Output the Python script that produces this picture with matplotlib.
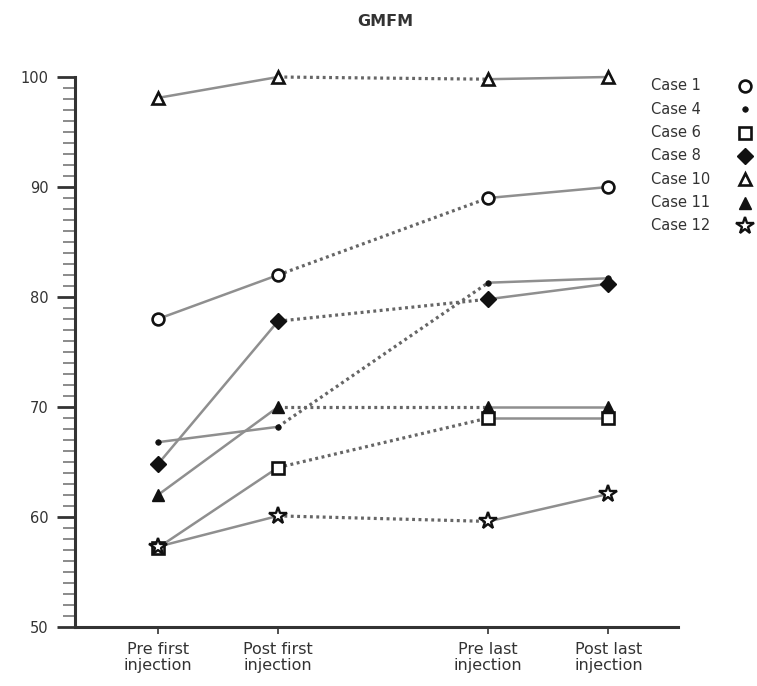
import matplotlib
matplotlib.use("Agg")
import matplotlib.pyplot as plt
from matplotlib.lines import Line2D
from matplotlib.ticker import MultipleLocator

timepoints = ["Pre first\ninjection", "Post first\ninjection", "Pre last\ninjection", "Post last\ninjection"]
x_pos = [0, 1, 2.75, 3.75]

cases = ["Case 1", "Case 4", "Case 6", "Case 8", "Case 10", "Case 11", "Case 12"]
case1 = [78.0, 82.0, 89.0, 90.0]
case4 = [66.8, 68.2, 81.3, 81.7]
case6 = [57.2, 64.5, 69.0, 69.0]
case8 = [64.8, 77.8, 79.8, 81.2]
case10 = [98.1, 100.0, 99.8, 100.0]
case11 = [62.0, 70.0, 70.0, 70.0]
case12 = [57.3, 60.1, 59.6, 62.1]
values = [case1, case4, case6, case8, case10, case11, case12]

styles = [
    dict(marker="o", ms=8.5, mfc="white", mec="#111111", mew=1.9),
    dict(marker="o", ms=4.0, mfc="#111111", mec="#111111", mew=0.5),
    dict(marker="s", ms=8.0, mfc="white", mec="#111111", mew=1.9),
    dict(marker="D", ms=8.5, mfc="#111111", mec="#111111", mew=1),
    dict(marker="^", ms=8.5, mfc="white", mec="#111111", mew=1.9),
    dict(marker="^", ms=9, mfc="#111111", mec="#111111", mew=1),
    dict(marker="*", ms=13, mfc="white", mec="#111111", mew=1.7),
]

line_col = "#8f8f8f"
text_col = "#333333"

fig = plt.figure(figsize=(7.57, 6.86), dpi=100)
ax = fig.add_axes([75/757, 1-627/686, (678-75)/757, (627-77)/686])

for vals, st in zip(values, styles):
    ax.plot(x_pos[0:2], vals[0:2], color=line_col, lw=1.8, ls="-", zorder=2, clip_on=False)
    ax.plot(x_pos[1:3], vals[1:3], color="#666666", lw=2.3, ls=(0, (0.9, 1.1)), zorder=2, clip_on=False)
    ax.plot(x_pos[2:4], vals[2:4], color=line_col, lw=1.8, ls="-", zorder=2, clip_on=False)
    ax.plot(x_pos, vals, ls="none", zorder=3, clip_on=False, **st)

ax.set_xlim(-0.69, 4.33)
ax.set_ylim(50, 100)
ax.spines["top"].set_visible(False)
ax.spines["right"].set_visible(False)
for s in ["left", "bottom"]:
    ax.spines[s].set_linewidth(2.2)
    ax.spines[s].set_color("#333333")

ax.set_yticks([50, 60, 70, 80, 90, 100])
ax.yaxis.set_minor_locator(MultipleLocator(1))
ax.tick_params(axis="y", which="major", length=13, width=2, color="#333333",
               labelsize=10.5, labelcolor=text_col, pad=6)
ax.tick_params(axis="y", which="minor", length=8.5, width=1.2, color="#777777")
ax.set_xticks(x_pos)
ax.set_xticklabels(timepoints, fontsize=11.5, color=text_col, linespacing=1.05)
ax.tick_params(axis="x", which="major", length=5, width=1.2, color="#333333", pad=6)

fig.text(385/757, 1-22/686, "GMFM", ha="center", va="center", fontsize=11.5,
         fontweight="bold", color=text_col)

# legend: labels left-aligned, markers to the right
for i, (name, st) in enumerate(zip(cases, styles)):
    yy = 1 - (86 + 23.3 * i) / 686
    fig.text(651/757, yy, name, ha="left", va="center", fontsize=10.5, color=text_col)
    fig.add_artist(Line2D([745/757], [yy], ls="none", transform=fig.transFigure, **st))

fig.savefig("out.png", dpi=100, facecolor="white")
